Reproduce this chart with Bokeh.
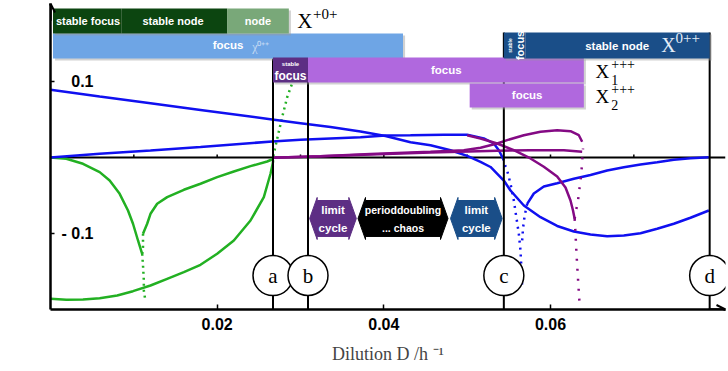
from math import pi
from bokeh.plotting import figure
from bokeh.models import Arrow, OpenHead, Label, FixedTicker, Span
from bokeh.core.properties import value
from bokeh.embed import file_html
from bokeh.resources import INLINE

# ---------------- data ----------------
bif_labels = ["a", "b", "c", "d"]
bif_D = [0.0267, 0.0309, 0.0544, 0.0791]

# X^{+0+} eigenvalues (green)
green1_D = [0.0, 0.0019, 0.0039, 0.0059, 0.0071, 0.0083, 0.0093, 0.0099, 0.0105, 0.0110]
green1_re = [0.0, -0.0017, -0.0083, -0.0193, -0.0303, -0.0478, -0.0697, -0.0872, -0.1092, -0.1267]
green1_dot_D = [0.0110, 0.0111, 0.0112, 0.0112, 0.0114]
green1_dot_re = [-0.1267, -0.1421, -0.1618, -0.1750, -0.1895]
green2_dot_D = [0.0110, 0.0111, 0.0111]
green2_dot_re = [-0.1267, -0.1180, -0.1004]
green2_D = [0.0111, 0.0116, 0.0120, 0.0128, 0.0140, 0.0160, 0.0180, 0.0200, 0.0220, 0.0240, 0.0260, 0.0267]
green2_re = [-0.1004, -0.0872, -0.0741, -0.0609, -0.0522, -0.0425, -0.0346, -0.0259, -0.0184, -0.0114, -0.0053, -0.0020]
green3_D = [0.0, 0.0019, 0.0039, 0.0059, 0.0080, 0.0099, 0.0120, 0.0140, 0.0160, 0.0180, 0.0200, 0.0220, 0.0240, 0.0256, 0.0264, 0.0267]
green3_re = [-0.1859, -0.1872, -0.1868, -0.1851, -0.1816, -0.1759, -0.1684, -0.1596, -0.1509, -0.1412, -0.1267, -0.1092, -0.0829, -0.0522, -0.0214, -0.0062]
green3_dot_D = [0.0267, 0.0267, 0.0272, 0.0278, 0.0284, 0.0292]
green3_dot_re = [-0.0062, 0.0, 0.0246, 0.0530, 0.0793, 0.1036]

# X^{0++} eigenvalues (blue)
blueA_D = [0.0, 0.0059, 0.0120, 0.0180, 0.0266, 0.0300, 0.0336, 0.0372, 0.0402, 0.0432, 0.0456, 0.0480, 0.0500,
           0.0516, 0.0528, 0.0544, 0.0552, 0.0568, 0.0588, 0.0608, 0.0628, 0.0648, 0.0668, 0.0688, 0.0708,
           0.0728, 0.0748, 0.0768, 0.0790]
blueA_re = [0.0891, 0.0803, 0.0714, 0.0625, 0.0500, 0.0451, 0.0400, 0.0342, 0.0283, 0.0201, 0.0162, 0.0096, 0.0022,
            -0.0057, -0.0125, -0.0303, -0.0434, -0.0632, -0.0786, -0.0901, -0.0974, -0.1013, -0.1036, -0.1026, -0.0996,
            -0.0938, -0.0872, -0.0793, -0.0697]
blueB_D = [0.0, 0.0059, 0.0120, 0.0180, 0.0266, 0.0300, 0.0372, 0.0402, 0.0432, 0.0472, 0.0500, 0.0520, 0.0532, 0.0538, 0.0543]
blueB_re = [0.0, 0.0049, 0.0092, 0.0137, 0.0211, 0.0233, 0.0267, 0.0289, 0.0293, 0.0299, 0.0299, 0.0250, 0.0184, 0.0096, -0.0013]
blueB_dot_D = [0.0543, 0.0546, 0.0548, 0.0552, 0.0556, 0.0559, 0.0562, 0.0564, 0.0565, 0.0566]
blueB_dot_re = [-0.0013, -0.0118, -0.0171, -0.0346, -0.0566, -0.0786, -0.1004, -0.1224, -0.1443, -0.1707]
blueC_dot_D = [0.0572, 0.0569, 0.0567, 0.0566]
blueC_dot_re = [-0.0610, -0.0763, -0.0934, -0.1092]
blueC_D = [0.0572, 0.0580, 0.0592, 0.0608, 0.0628, 0.0648, 0.0668, 0.0688, 0.0708, 0.0728, 0.0748, 0.0768, 0.0790]
blueC_re = [-0.0610, -0.0474, -0.0382, -0.0338, -0.0280, -0.0230, -0.0171, -0.0128, -0.0092, -0.0062, -0.0030, -0.0009, 0.0004]

# X^{+++} eigenvalues (purple)
purp1_D = [0.0266, 0.0324, 0.0384, 0.0456, 0.0496, 0.0516, 0.0536, 0.0548, 0.0568, 0.0588, 0.0608, 0.0624, 0.0634, 0.0638]
purp1_re = [-0.0004, 0.0016, 0.0045, 0.0075, 0.0096, 0.0128, 0.0184, 0.0228, 0.0293, 0.0338, 0.0359, 0.0346, 0.0293, 0.0207]
purp2_D = [0.0266, 0.0324, 0.0384, 0.0456, 0.0536, 0.0576, 0.0616, 0.0638]
purp2_re = [-0.0004, 0.0016, 0.0039, 0.0066, 0.0088, 0.0096, 0.0096, 0.0075]
purp3_D = [0.0500, 0.0516, 0.0536, 0.0556, 0.0576, 0.0592, 0.0608, 0.0618, 0.0624, 0.0627, 0.0629]
purp3_re = [0.0293, 0.0250, 0.0184, 0.0096, -0.0013, -0.0122, -0.0250, -0.0395, -0.0566, -0.0697, -0.0807]
purp_up_D = [0.0629, 0.0630, 0.0633, 0.0635, 0.0637, 0.0638, 0.0639]
purp_up_re = [-0.0807, -0.0737, -0.0566, -0.0391, -0.0214, -0.0039, 0.0118]
purp_down_D = [0.0629, 0.0630, 0.0631, 0.0632, 0.0633, 0.0634, 0.0635]
purp_down_re = [-0.0807, -0.1000, -0.1224, -0.1421, -0.1596, -0.1772, -0.1947]

# regime bars: (label, D start, D end)
row_x0p = [("stable focus", 0.0003, 0.0085), ("stable node", 0.0085, 0.0212), ("node", 0.0212, 0.0286)]
row_x0pp_focus = [("focus", 0.0003, 0.0423)]
row_x0pp_right = [("stable focus", 0.0544, 0.0570), ("stable node", 0.0570, 0.0791)]
row_x1 = [("stable focus", 0.0267, 0.0309), ("focus", 0.0309, 0.0640)]
row_x2 = [("focus", 0.0503, 0.0640)]
dyn_regimes = [("limit", "cycle", 0.0311, 0.0367), ("perioddoubling", "... chaos", 0.0369, 0.0477), ("limit", "cycle", 0.0480, 0.0542)]
xtick_vals = [0.02, 0.04, 0.06]
ytick_vals = [-0.1, 0.1]
ytick_text = {-0.1: "- 0.1", 0.1: "0.1"}

# ---------------- figure ----------------
p = figure(width=728, height=371, x_range=(0, 0.0810), y_range=(-0.2, 0.2026),
           output_backend="svg", toolbar_location=None,
           min_border_left=50, min_border_right=3, min_border_top=3, min_border_bottom=62)
p.outline_line_color = None
p.grid.visible = False
p.background_fill_color = "white"

SANS = value("Liberation Sans")
SERIF = value("Liberation Serif")

p.xaxis.ticker = FixedTicker(ticks=xtick_vals)
p.xaxis.major_tick_in = 5
p.xaxis.major_tick_out = 0
p.xaxis.minor_tick_line_color = None
p.xaxis.axis_line_width = 2.5
p.xaxis.major_tick_line_width = 1.5
p.xaxis.major_label_text_font = "Liberation Sans"
p.xaxis.major_label_text_font_style = "bold"
p.xaxis.major_label_text_font_size = "16px"
p.xaxis.major_label_text_color = "black"
p.xaxis.major_label_standoff = 8
p.xaxis.axis_label = "Dilution D /h \u207b\u00b9"
p.xaxis.axis_label_text_font = "Liberation Serif"
p.xaxis.axis_label_text_font_style = "normal"
p.xaxis.axis_label_text_font_size = "18px"
p.xaxis.axis_label_standoff = 11

p.yaxis.ticker = FixedTicker(ticks=ytick_vals)
p.yaxis.major_tick_in = 4
p.yaxis.major_tick_out = 0
p.yaxis.minor_tick_line_color = None
p.yaxis.axis_line_width = 2.5
p.yaxis.major_tick_line_width = 1.5
p.yaxis.major_label_overrides = ytick_text
p.yaxis.major_label_standoff = -43
p.yaxis.major_label_text_font = "Liberation Sans"
p.yaxis.major_label_text_font_style = "bold"
p.yaxis.major_label_text_font_size = "16px"
p.yaxis.major_label_text_color = "black"

p.add_layout(Span(location=0, dimension="width", line_color="black", line_width=2, level="underlay"))
p.segment(x0=[0.01, 0.02, 0.03, 0.04, 0.05, 0.06, 0.07], y0=0, x1=[0.01, 0.02, 0.03, 0.04, 0.05, 0.06, 0.07], y1=0.004,
          line_color="black", line_width=1.5)

p.add_layout(Arrow(end=OpenHead(size=9, line_width=2), x_start=0, y_start=0.18, x_end=0, y_end=0.2026, line_width=2.5))
p.add_layout(Arrow(end=OpenHead(size=9, line_width=2), x_start=0.079, y_start=-0.2, x_end=0.0810, y_end=-0.2, line_width=2.5))

GREEN = "#22b022"
BLUE = "#1010f0"
PURPLE = "#840a84"

# curves
p.line(green1_D, green1_re, line_color=GREEN, line_width=2.5)
p.line(green2_D, green2_re, line_color=GREEN, line_width=2.5)
p.line(green3_D, green3_re, line_color=GREEN, line_width=2.5)
for xs, ys in [(green1_dot_D, green1_dot_re), (green2_dot_D, green2_dot_re), (green3_dot_D, green3_dot_re)]:
    p.line(xs, ys, line_color=GREEN, line_width=2.5, line_dash="2 4")

p.line(blueA_D, blueA_re, line_color=BLUE, line_width=2.5)
p.line(blueB_D, blueB_re, line_color=BLUE, line_width=2.5)
p.line(blueC_D, blueC_re, line_color=BLUE, line_width=2.5)
for xs, ys in [(blueB_dot_D, blueB_dot_re), (blueC_dot_D, blueC_dot_re)]:
    p.line(xs, ys, line_color=BLUE, line_width=2.5, line_dash="2 5")

p.line(purp1_D, purp1_re, line_color=PURPLE, line_width=2.5)
p.line(purp2_D, purp2_re, line_color=PURPLE, line_width=2.5)
p.line(purp3_D, purp3_re, line_color=PURPLE, line_width=2.5)
for xs, ys in [(purp_up_D, purp_up_re), (purp_down_D, purp_down_re)]:
    p.line(xs, ys, line_color=PURPLE, line_width=2.5, line_dash="2 8")

# vertical bifurcation lines
p.segment(x0=bif_D, y0=-0.2, x1=bif_D, y1=[0.1303, 0.1303, 0.1645, 0.1645], line_color="black", line_width=2)

# regime bars
DKGREEN = "#0c4510"
LTGREEN = "#79a879"
LTBLUE = "#6ea5e5"
DKBLUE = "#1a4e88"
LTPURP = "#b068de"
DKPURP = "#5d2e84"
SH = "#9a9a9a"

def bars(rows, top, bottom, colors):
    for (lab, d0, d1), c in zip(rows, colors):
        p.quad(left=d0 + 0.00025, right=d1 + 0.00025, top=top - 0.0026, bottom=bottom - 0.0026,
               fill_color=SH, fill_alpha=0.45, line_color=None)
    for (lab, d0, d1), c in zip(rows, colors):
        p.quad(left=d0, right=d1, top=top, bottom=bottom, fill_color=c, line_color=None)

bars(row_x0pp_focus, 0.1632, 0.1303, [LTBLUE])
bars(row_x0p, 0.1961, 0.1632, [DKGREEN, DKGREEN, LTGREEN])
bars(row_x1, 0.1316, 0.0987, [DKPURP, LTPURP])
bars(row_x2, 0.0974, 0.0658, [LTPURP])
bars(row_x0pp_right, 0.1645, 0.1303, [DKBLUE, DKBLUE])

def t(x, y, s, size, color="white", font=SANS, style="bold", align="center", angle=0):
    p.text(x=[x], y=[y], text=[s], text_font=font, text_font_size=size, text_font_style=style,
           text_color=color, text_align=align, text_baseline="middle", angle=angle)

t(0.0045, 0.180, "stable focus", "11px")
t(0.0147, 0.180, "stable node", "11px")
t(0.0249, 0.180, "node", "11px")
t(0.0296, 0.179, "X", "21px", color="black", font=SERIF, style="normal", align="left")
t(0.0315, 0.189, "+0+", "15px", color="black", font=SERIF, style="normal", align="left")

t(0.0213, 0.1474, "focus", "11.5px")
t(0.0242, 0.1450, "\u03c7\u2070\u207a\u207a", "12px", color="#c4daf4", font=SERIF, style="normal", align="left")

t(0.0288, 0.1224, "stable", "6px")
t(0.0288, 0.1066, "focus", "12px")
t(0.0475, 0.1145, "focus", "11.5px")
t(0.0572, 0.0816, "focus", "11.5px")

t(0.0654, 0.1132, "X", "19px", color="black", font=SERIF, style="normal", align="left")
t(0.0673, 0.1230, "+++", "14px", color="black", font=SERIF, style="normal", align="left")
t(0.0673, 0.1015, "1", "14px", color="black", font=SERIF, style="normal", align="left")
t(0.0654, 0.0803, "X", "19px", color="black", font=SERIF, style="normal", align="left")
t(0.0673, 0.0900, "+++", "14px", color="black", font=SERIF, style="normal", align="left")
t(0.0673, 0.0695, "2", "14px", color="black", font=SERIF, style="normal", align="left")

t(0.0551, 0.1474, "stable", "5px", angle=pi / 2)
t(0.0563, 0.1474, "focus", "11px", angle=pi / 2)
t(0.0680, 0.1461, "stable node", "11.5px")
t(0.0733, 0.1474, "X", "20px", color="#e4edf8", font=SERIF, style="normal", align="left")
t(0.0750, 0.1575, "0++", "15px", color="#e4edf8", font=SERIF, style="normal", align="left")

# dynamic regime double arrows
body_top, body_bot, ext, head = -0.0566, -0.1039, 0.004, 0.0009
ymid = (body_top + body_bot) / 2
xs_all, ys_all, cols = [], [], []
for (l1, l2, d0, d1), c in zip(dyn_regimes, [DKPURP, "black", DKBLUE]):
    xs_all.append([d0, d0 + head, d0 + head, d1 - head, d1 - head, d1, d1 - head, d1 - head, d0 + head, d0 + head])
    ys_all.append([ymid, body_top + ext, body_top, body_top, body_top + ext, ymid, body_bot - ext, body_bot, body_bot, body_bot - ext])
    cols.append(c)
p.patches(xs_all, ys_all, fill_color=cols, line_color=cols)
for (l1, l2, d0, d1) in dyn_regimes:
    sz = "10.5px" if len(l1) > 8 else "11.5px"
    t((d0 + d1) / 2, -0.0697, l1, sz)
    t((d0 + d1) / 2, -0.0934, l2, sz)

# bifurcation point circles
p.scatter(x=bif_D, y=[-0.1553] * 4, size=40, marker="circle", fill_color="white", line_color="black", line_width=1.5)
p.text(x=bif_D, y=[-0.1553] * 4, text=bif_labels, text_font=SERIF, text_font_size="21px",
       text_color="black", text_align="center", text_baseline="middle")

p.add_layout(Label(x=-0.00426, y=-0.0316, text="Realpart of Jacobian Eigenvalues Re(\u03bb)", angle=pi / 2,
                   text_align="center", text_baseline="middle", text_font="Liberation Serif",
                   text_font_size="19px", text_color="black"))

open("out.html", "w").write(file_html(p, INLINE))
